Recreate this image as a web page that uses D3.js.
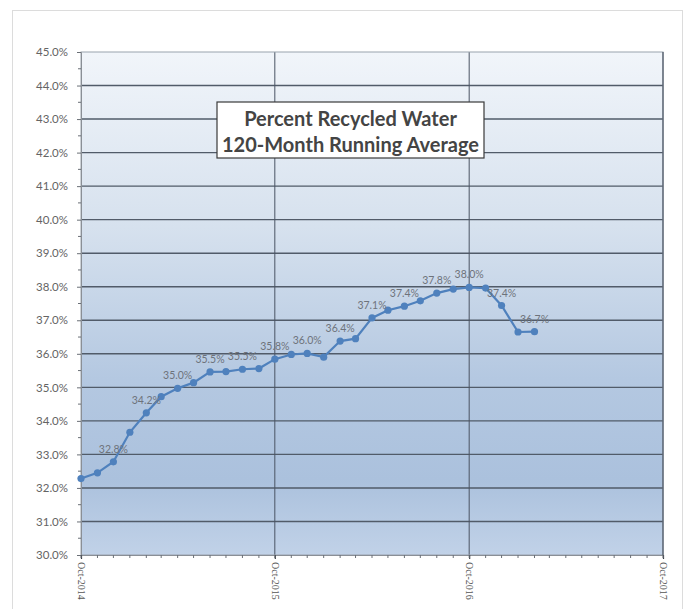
<!DOCTYPE html>
<html>
<head>
<meta charset="utf-8">
<script src="https://cdn.jsdelivr.net/npm/d3@7"></script>
<style>
  html, body { margin: 0; padding: 0; background: #ffffff; }
  svg { display: block; }
</style>
</head>
<body>
<div id="chart"></div>
<script>
// ---- data ----
const months = [
  "2014-10","2014-11","2014-12","2015-01","2015-02","2015-03","2015-04","2015-05",
  "2015-06","2015-07","2015-08","2015-09","2015-10","2015-11","2015-12","2016-01",
  "2016-02","2016-03","2016-04","2016-05","2016-06","2016-07","2016-08","2016-09",
  "2016-10","2016-11","2016-12","2017-01","2017-02"
];
const values = [
  32.28, 32.45, 32.78, 33.66, 34.24, 34.72, 34.97, 35.14,
  35.46, 35.47, 35.54, 35.56, 35.84, 35.98, 36.01, 35.90,
  36.38, 36.45, 37.07, 37.30, 37.42, 37.58, 37.81, 37.93,
  37.98, 37.96, 37.44, 36.65, 36.66
];
const labeled = [
  0,0,1,0,1,0,1,0,1,0,1,0,1,0,1,0,1,0,1,0,1,0,1,0,1,0,1,0,1
];
const yTicks = [30,31,32,33,34,35,36,37,38,39,40,41,42,43,44,45];
const xTickLabels = ["2014-10","2015-10","2016-10","2017-10"];
const titleLines = ["Percent Recycled Water", "120-Month Running Average"];

// ---- setup ----
const W = 688, H = 609;
const parse = d3.timeParse("%Y-%m");
const data = months.map((m, i) => ({ date: parse(m), value: values[i], lab: labeled[i] }));

const svg = d3.select("#chart").append("svg").attr("width", W).attr("height", H);

// outer frame
svg.append("rect").attr("x", 12.5).attr("y", 10.5).attr("width", 670).attr("height", 640)
  .attr("fill", "#ffffff").attr("stroke", "#dcdcdc").attr("stroke-width", 1);

const x = d3.scaleTime().domain([parse("2014-10"), parse("2017-10")]).range([81, 663]);
const y = d3.scaleLinear().domain([30, 45]).range([555, 52]);

// gradient background
const defs = svg.append("defs");
const grad = defs.append("linearGradient").attr("id", "bg").attr("x1", 0).attr("y1", 0).attr("x2", 0).attr("y2", 1);
grad.append("stop").attr("offset", "0%").attr("stop-color", "#f1f5fa");
grad.append("stop").attr("offset", "35%").attr("stop-color", "#d6e1ee");
grad.append("stop").attr("offset", "65%").attr("stop-color", "#b4c8e1");
grad.append("stop").attr("offset", "85%").attr("stop-color", "#abc1dd");
grad.append("stop").attr("offset", "100%").attr("stop-color", "#c1d2e8");

svg.append("rect").attr("x", x.range()[0]).attr("y", y(45))
  .attr("width", x.range()[1] - x.range()[0]).attr("height", y(30) - y(45))
  .attr("fill", "url(#bg)");

// horizontal gridlines
svg.append("g").selectAll("line").data(yTicks.filter(d => d > 30 && d < 45)).join("line")
  .attr("x1", x.range()[0]).attr("x2", x.range()[1])
  .attr("y1", d => y(d)).attr("y2", d => y(d))
  .attr("stroke", "#515b69").attr("stroke-width", 1.4);

// vertical gridlines
svg.append("g").selectAll("line").data(xTickLabels.slice(1, 3).map(parse)).join("line")
  .attr("x1", d => x(d)).attr("x2", d => x(d))
  .attr("y1", y(45)).attr("y2", y(30))
  .attr("stroke", "#4a5463").attr("stroke-width", 1);

// plot border
svg.append("rect").attr("x", x.range()[0]).attr("y", y(45))
  .attr("width", x.range()[1] - x.range()[0]).attr("height", y(30) - y(45))
  .attr("fill", "none").attr("stroke", "#9aa3ae").attr("stroke-width", 1);
svg.append("line").attr("x1", x.range()[1]).attr("x2", x.range()[1]).attr("y1", y(45)).attr("y2", y(30))
  .attr("stroke", "#4a5463").attr("stroke-width", 1.2);

// y axis
const yAxis = d3.axisLeft(y).tickValues(yTicks).tickFormat(d => d.toFixed(1) + "%").tickSize(4).tickPadding(9);
const gy = svg.append("g").attr("transform", `translate(${x.range()[0]},0)`).call(yAxis);
gy.select(".domain").attr("stroke", "#8a8f96");
gy.selectAll(".tick line").attr("stroke", "#6a6f76");
gy.selectAll("text").attr("fill", "#646464").style("font-family", "Lato, 'Open Sans', sans-serif").style("font-size", "11.5px");
// y minor ticks
const yMinor = yTicks.slice(0, -1).map(d => d + 0.5);
svg.append("g").selectAll("line").data(yMinor).join("line")
  .attr("x1", x.range()[0] - 3).attr("x2", x.range()[0])
  .attr("y1", d => y(d)).attr("y2", d => y(d))
  .attr("stroke", "#6a6f76");

// x axis
const xAxis = d3.axisBottom(x).tickValues(xTickLabels.map(parse)).tickFormat(d3.timeFormat("%b-%Y")).tickSize(4).tickPadding(4);
const gx = svg.append("g").attr("transform", `translate(0,${y(30)})`).call(xAxis);
gx.select(".domain").attr("stroke", "#8a8f96");
gx.selectAll(".tick line").attr("stroke", "#3a3f46").attr("stroke-width", 1.2);
gx.selectAll("text")
  .attr("fill", "#555")
  .style("font-family", "'Liberation Serif', 'DejaVu Serif', serif")
  .style("font-size", "10px")
  .attr("text-anchor", "start")
  .attr("transform", "rotate(90)")
  .attr("x", 7).attr("y", 0).attr("dy", "0.32em");
// x minor ticks (monthly)
svg.append("g").selectAll("line").data(x.ticks(d3.timeMonth.every(1))).join("line")
  .attr("x1", d => x(d)).attr("x2", d => x(d))
  .attr("y1", y(30)).attr("y2", y(30) + 3)
  .attr("stroke", "#6a6f76");

// line
const line = d3.line().x(d => x(d.date)).y(d => y(d.value));
svg.append("path").datum(data).attr("d", line)
  .attr("fill", "none").attr("stroke", "#4f81bd").attr("stroke-width", 2.2);
svg.append("g").selectAll("circle").data(data).join("circle")
  .attr("cx", d => x(d.date)).attr("cy", d => y(d.value)).attr("r", 3.6)
  .attr("fill", "#4f81bd");

// data labels
svg.append("g").selectAll("text").data(data.filter(d => d.lab)).join("text")
  .attr("x", d => x(d.date)).attr("y", d => y(d.value) - 9)
  .attr("text-anchor", "middle")
  .attr("fill", "#6e737b")
  .style("font-family", "Lato, 'Open Sans', sans-serif")
  .style("font-size", "10.5px")
  .text(d => d.value.toFixed(1) + "%");

// title box
svg.append("rect").attr("x", 217).attr("y", 102).attr("width", 267).attr("height", 56)
  .attr("fill", "#ffffff").attr("stroke", "#3a3a3a").attr("stroke-width", 1.2);
svg.append("g").selectAll("text").data(titleLines).join("text")
  .attr("x", 350.5).attr("y", (d, i) => 126 + i * 25.5)
  .attr("text-anchor", "middle")
  .attr("fill", "#444")
  .style("font-family", "Lato, 'Open Sans', sans-serif")
  .style("font-weight", "bold")
  .style("font-size", "20px")
  .text(d => d);
</script>
</body>
</html>
